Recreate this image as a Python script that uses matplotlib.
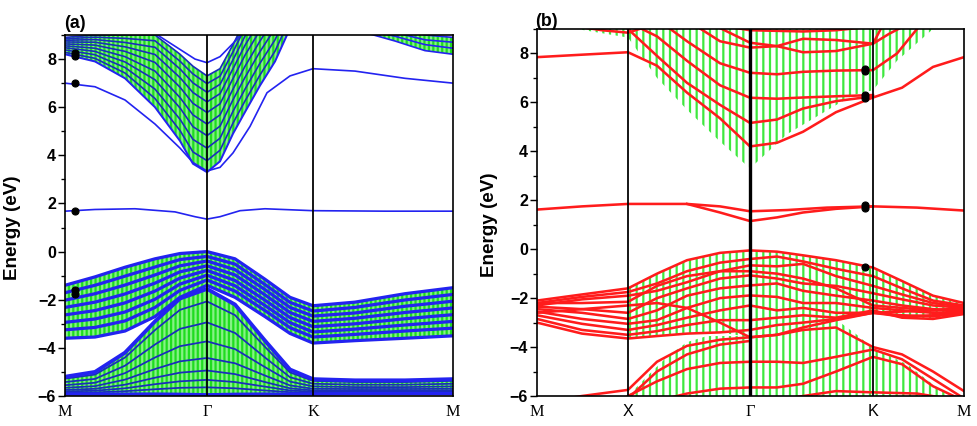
import matplotlib
matplotlib.use('Agg')
import matplotlib.pyplot as plt
from matplotlib.ticker import MultipleLocator

plt.rcParams['hatch.linewidth'] = 2.0

# ---------------- panel (a) data ----------------
ka_ticks = [0, 142, 248, 388]
ka_labels = ['M', 'Γ', 'K', 'M']

# conduction bundle
ka_c = [0, 30, 60, 90, 115, 128, 142, 155, 168, 180, 195, 210, 222]
ca_lo = [8.2, 7.9, 7.2, 6.0, 4.6, 3.65, 3.3, 3.75, 4.9, 5.8, 6.9, 7.9, 9.0]
ca_hi = [8.9, 9.0, 9.0, 9.0, 8.2, 7.7, 7.3, 7.6, 8.6, 9.6, 10.6, 11.5, 12.3]
ca1 = [8.28, 8.03, 7.42, 6.36, 5.03, 4.14, 3.78, 4.21, 5.34, 6.26, 7.34, 8.33, 9.40]
ca2 = [8.38, 8.18, 7.65, 6.75, 5.50, 4.66, 4.30, 4.71, 5.83, 6.75, 7.83, 8.80, 9.83]
ca3 = [8.47, 8.32, 7.88, 7.14, 5.97, 5.19, 4.82, 5.21, 6.31, 7.24, 8.31, 9.27, 10.25]
ca4 = [8.55, 8.45, 8.10, 7.50, 6.40, 5.68, 5.30, 5.68, 6.75, 7.70, 8.75, 9.70, 10.65]
ca5 = [8.63, 8.58, 8.32, 7.86, 6.83, 6.16, 5.78, 6.14, 7.19, 8.16, 9.19, 10.13, 11.05]
ca6 = [8.71, 8.70, 8.51, 8.19, 7.23, 6.61, 6.22, 6.56, 7.60, 8.57, 9.60, 10.53, 11.41]
ca7 = [8.78, 8.81, 8.69, 8.49, 7.59, 7.01, 6.62, 6.95, 7.97, 8.95, 9.97, 10.89, 11.74]
ca8 = [8.84, 8.91, 8.86, 8.76, 7.91, 7.38, 6.98, 7.29, 8.30, 9.30, 10.30, 11.21, 12.04]

# lowest conduction band (7.0 eV at M)
ka_c0 = [0, 30, 60, 90, 115, 128, 142, 155, 168, 185, 202, 225, 248, 290, 340, 388]
ca_c0 = [7.0, 6.85, 6.3, 5.3, 4.3, 3.7, 3.35, 3.5, 4.1, 5.2, 6.6, 7.3, 7.6, 7.5, 7.2, 7.0]

# band above the bundle at Gamma
ka_t = [85, 100, 115, 130, 142, 155, 168, 178]
ca_t = [9.2, 8.8, 8.4, 8.0, 7.85, 8.1, 8.65, 9.1]

# small bundle at top right
ka_tr = [300, 330, 360, 388]
tr1 = [9.1, 8.75, 8.35, 8.2]
tr2 = [9.2, 8.95, 8.6, 8.45]
tr3 = [9.3, 9.1, 8.8, 8.7]
tr4 = [9.4, 9.25, 9.0, 8.9]

# flat gap band
ka_f = [0, 30, 70, 110, 130, 142, 155, 175, 200, 248, 320, 388]
fa = [1.68, 1.75, 1.78, 1.65, 1.45, 1.35, 1.45, 1.7, 1.78, 1.7, 1.68, 1.68]

# valence bundles
ka_v = [0, 30, 60, 90, 115, 142, 170, 200, 225, 248, 290, 340, 388]
va_top = [-1.4, -1.05, -0.65, -0.3, -0.08, 0.0, -0.3, -1.15, -1.9, -2.25, -2.1, -1.75, -1.5]
va1 = [-1.71, -1.40, -1.02, -0.64, -0.33, -0.20, -0.52, -1.37, -2.11, -2.47, -2.32, -2.01, -1.78]
va2 = [-2.02, -1.75, -1.39, -0.97, -0.59, -0.39, -0.75, -1.58, -2.32, -2.68, -2.55, -2.27, -2.06]
va3 = [-2.32, -2.10, -1.76, -1.31, -0.84, -0.59, -0.97, -1.80, -2.53, -2.90, -2.77, -2.53, -2.34]
va4 = [-2.63, -2.45, -2.13, -1.64, -1.10, -0.78, -1.20, -2.02, -2.74, -3.12, -3.00, -2.79, -2.62]
va5 = [-2.94, -2.80, -2.51, -1.98, -1.35, -0.98, -1.42, -2.24, -2.95, -3.34, -3.22, -3.05, -2.90]
va6 = [-3.25, -3.15, -2.88, -2.32, -1.61, -1.18, -1.64, -2.45, -3.16, -3.55, -3.44, -3.30, -3.18]
va_bot = [-3.6, -3.55, -3.3, -2.7, -1.9, -1.4, -1.9, -2.7, -3.4, -3.8, -3.7, -3.6, -3.5]

la_top = [-5.2, -5.0, -4.2, -2.9, -1.95, -1.55, -2.2, -3.7, -4.9, -5.3, -5.35, -5.35, -5.3]
la1 = [-5.28, -5.11, -4.40, -3.26, -2.42, -2.07, -2.64, -3.96, -5.02, -5.37, -5.42, -5.42, -5.37]
la2 = [-5.42, -5.29, -4.74, -3.86, -3.21, -2.94, -3.38, -4.40, -5.22, -5.49, -5.53, -5.53, -5.49]
la3 = [-5.55, -5.45, -5.05, -4.40, -3.93, -3.73, -4.05, -4.80, -5.40, -5.60, -5.63, -5.63, -5.60]
la4 = [-5.66, -5.59, -5.32, -4.88, -4.56, -4.42, -4.64, -5.15, -5.56, -5.70, -5.71, -5.71, -5.70]
la5 = [-5.75, -5.70, -5.53, -5.24, -5.03, -4.94, -5.09, -5.42, -5.68, -5.77, -5.78, -5.78, -5.77]
la6 = [-5.81, -5.78, -5.68, -5.51, -5.39, -5.33, -5.42, -5.61, -5.77, -5.82, -5.83, -5.83, -5.82]
la7 = [-5.86, -5.85, -5.80, -5.72, -5.66, -5.64, -5.68, -5.77, -5.84, -5.86, -5.87, -5.87, -5.86]
la_bot = [-5.92, -5.92, -5.92, -5.92, -5.93, -5.95, -5.93, -5.92, -5.92, -5.92, -5.9, -5.9, -5.9]

dots_a_k = [10, 10, 10, 10, 10, 10]
dots_a_e = [8.25, 8.12, 7.0, 1.7, -1.6, -1.75]

# ---------------- panel (b) data ----------------
kb_ticks = [0, 91, 213, 336, 427]
kb_labels = ['M', 'X', 'Γ', 'K', 'M']
kb = [0, 45, 91, 120, 150, 183, 213, 240, 266, 299, 336, 365, 396, 427]

kb_c = [40, 91, 120, 150, 183, 213, 250, 283, 316, 336, 360, 396]
cb_lo = [9.0, 8.65, 7.0, 5.7, 4.4, 3.3, 4.7, 5.5, 6.3, 6.5, 7.7, 9.0]

cb_t8 = [7.85, 7.95, 8.05, 7.5, 6.4, 5.35, 4.2, 4.35, 4.8, 5.6, 6.2, 6.6, 7.45, 7.85]
kb_c2 = [91, 120, 150, 183, 213, 240, 266, 299, 336]
cb_c2 = [9.0, 7.9, 6.8, 5.9, 5.16, 5.3, 5.75, 6.05, 6.25]
kb_c3 = [100, 120, 150, 183, 213, 240, 266, 299, 336]
cb_c3 = [9.1, 8.7, 7.7, 6.7, 6.19, 6.15, 6.2, 6.25, 6.3]
kb_c4 = [130, 150, 183, 213, 240, 266, 299, 336, 360, 382]
cb_c4 = [9.1, 8.5, 7.6, 7.21, 7.15, 7.25, 7.3, 7.32, 8.0, 9.1]
kb_c5 = [160, 183, 213, 240, 266, 299, 336, 352, 366]
cb_c5 = [9.1, 8.5, 8.24, 8.3, 8.05, 8.1, 8.4, 8.8, 9.1]
kb_c6 = [180, 213, 240, 266, 299, 336, 345]
cb_c6 = [9.1, 8.44, 8.3, 8.6, 8.55, 8.4, 9.1]
kb_c7 = [190, 213, 266, 299, 336]
cb_c7 = [9.1, 8.95, 8.9, 8.95, 9.1]
kb_mx = [40, 65, 91, 110]
cb_mx = [9.1, 8.95, 8.85, 9.1]

kb_f1 = [0, 45, 91, 150, 183, 213, 250, 290, 336, 380, 427]
fb1 = [1.62, 1.75, 1.85, 1.85, 1.75, 1.55, 1.6, 1.7, 1.75, 1.7, 1.58]
kb_f2 = [150, 183, 213, 240, 266, 299, 336]
fb2 = [1.85, 1.5, 1.15, 1.3, 1.5, 1.65, 1.75]

vb1 = [-2.1, -1.85, -1.6, -1.0, -0.45, -0.15, -0.05, -0.1, -0.25, -0.45, -0.75, -1.3, -1.9, -2.2]
vb2 = [-2.2, -1.95, -1.75, -1.4, -0.9, -0.55, -0.4, -0.3, -0.5, -0.8, -1.1, -1.6, -2.1, -2.3]
vb3 = [-2.3, -2.05, -1.9, -1.7, -1.35, -0.9, -0.66, -0.7, -0.6, -1.1, -1.5, -1.85, -2.2, -2.35]
vb4 = [-2.35, -2.45, -2.6, -2.0, -1.6, -1.2, -1.07, -1.2, -1.4, -1.5, -1.8, -2.05, -2.3, -2.4]
vb5 = [-2.45, -2.6, -2.85, -2.5, -1.9, -1.6, -1.48, -1.4, -1.7, -1.9, -2.1, -2.3, -2.45, -2.5]
vb6 = [-2.55, -2.85, -3.05, -2.9, -2.4, -2.0, -1.89, -1.95, -2.2, -2.2, -2.4, -2.5, -2.6, -2.55]
vb7 = [-2.7, -3.05, -3.3, -3.1, -2.8, -2.5, -2.3, -2.5, -2.4, -2.6, -2.6, -2.7, -2.75, -2.6]
vb8 = [-2.85, -3.3, -3.5, -3.35, -3.1, -2.9, -2.9, -2.8, -2.7, -2.8, -2.5, -2.8, -2.85, -2.65]
vb9 = [-3.0, -3.45, -3.65, -3.55, -3.45, -3.4, -3.3, -3.1, -3.0, -2.85, -2.6, -2.75, -2.7, -2.5]
vb10 = [-2.2, -2.2, -2.15, -1.5, -1.1, -0.9, -0.9, -1.0, -1.2, -1.6, -2.3, -2.4, -2.5, -2.45]
vb11 = [-2.6, -2.45, -2.3, -2.2, -2.4, -3.0, -3.6, -3.5, -3.2, -2.9, -2.6, -2.55, -2.5, -2.4]

kb_vg = [91, 120, 150, 183, 213, 240, 266, 299, 336, 365, 396, 427]
vg_top = [-1.6, -1.0, -0.45, -0.15, -0.05, -0.1, -0.25, -0.45, -0.75, -1.3, -1.9, -2.2]
vg_bot = [-3.65, -3.55, -3.45, -3.4, -3.6, -3.5, -3.2, -2.9, -2.6, -2.8, -2.85, -2.65]

kb_lg = [91, 110, 130, 150, 170, 213, 260, 300, 320, 336, 370, 395, 412]
lg_top = [-6.0, -5.2, -4.4, -3.8, -3.55, -3.55, -3.3, -2.9, -3.5, -4.05, -4.7, -5.5, -6.0]

kb_l1 = [0, 45, 91, 120, 150, 183, 213]
lb1 = [-6.3, -6.0, -5.75, -4.6, -3.95, -3.7, -3.6]
kb_l2 = [91, 120, 150, 183, 213, 240, 266, 299, 336, 365, 396, 427]
lb2 = [-6.0, -5.4, -4.9, -4.65, -4.6, -4.6, -4.65, -4.4, -4.1, -4.5, -5.3, -6.1]
kb_l3 = [120, 150, 183, 213, 240, 266, 299, 336, 365, 396, 427]
lb3 = [-6.2, -5.9, -5.7, -5.65, -5.65, -5.5, -5.0, -4.4, -4.7, -5.6, -6.2]
kb_l4 = [213, 240, 266, 299, 336, 365, 396, 427]
lb4 = [-3.6, -3.5, -3.3, -3.2, -4.0, -4.3, -5.0, -5.8]
kb_l5 = [250, 299, 336, 380, 410]
lb5 = [-6.1, -5.8, -5.85, -5.9, -6.1]
kb_l6 = [91, 120, 150, 183, 213]
lb6 = [-6.1, -5.0, -4.3, -3.9, -3.75]

dots_b_k = [328, 328, 328, 328, 328, 328, 328]
dots_b_e = [7.38, 7.28, 6.32, 6.18, 1.82, 1.68, -0.72]

# ---------------- drawing ----------------
W, H, DPI = 977, 426, 80
fig = plt.figure(figsize=(W / DPI, H / DPI), dpi=DPI)
ax_a = fig.add_axes([65 / W, 1 - 396 / H, 388 / W, 361 / H])
ax_b = fig.add_axes([537 / W, 1 - 396 / H, 427 / W, 367 / H])

blue = '#2323f0'
navy = '#1a2dbb'
red = '#ff1c1c'

# panel a green
ga = dict(facecolor='#86f286', edgecolor='#1fdc1f', hatch='|||', lw=0, zorder=1)
ax_a.fill_between(ka_c, ca_lo, ca_hi, **ga)
ax_a.fill_between(ka_tr, tr1, tr4, **ga)
ax_a.fill_between(ka_v, va_top, va_bot, **ga)
ax_a.fill_between(ka_v, la_top, la_bot, **ga)

for y in [ca1, ca2, ca3, ca4, ca5, ca6, ca7, ca8]:
    ax_a.plot(ka_c, y, color=navy, lw=1.5, zorder=2)
ax_a.plot(ka_c, ca_lo, color=blue, lw=1.8, zorder=2)
ax_a.plot(ka_c, ca_hi, color=navy, lw=1.5, zorder=2)
ax_a.plot(ka_c0, ca_c0, color=blue, lw=1.5, zorder=2)
ax_a.plot(ka_t, ca_t, color=blue, lw=1.5, zorder=2)
for y in [tr1, tr2, tr3, tr4]:
    ax_a.plot(ka_tr, y, color=blue, lw=1.5, zorder=2)
ax_a.plot(ka_f, fa, color=blue, lw=1.5, zorder=2)
for y in [va_top, va1, va2, va3, va4, va5, va6, va_bot]:
    ax_a.plot(ka_v, y, color=blue, lw=2.9, zorder=2)
for y in [la1, la2, la3, la4, la5, la6, la7]:
    ax_a.plot(ka_v, y, color=navy, lw=1.6, zorder=2)
ax_a.plot(ka_v, la_top, color=blue, lw=3.5, zorder=2)
ax_a.plot(ka_v, la_bot, color=blue, lw=3.0, zorder=2)
ax_a.scatter(dots_a_k, dots_a_e, s=40, color='black', zorder=5)
for k in ka_ticks[1:-1]:
    ax_a.axvline(k, color='black', lw=1.6, zorder=4)

# panel b green
gb = dict(facecolor='none', edgecolor='#3ee83e', hatch='||', lw=0, zorder=1)
ax_b.fill_between(kb_c, cb_lo, 9.5, **gb)
ax_b.fill_between(kb_vg, vg_top, vg_bot, **gb)
ax_b.fill_between(kb_lg, lg_top, -6.5, **gb)

lw_r = 2.3
ax_b.plot(kb, cb_t8, color=red, lw=lw_r, zorder=2)
for x, y in [(kb_c2, cb_c2), (kb_c3, cb_c3), (kb_c4, cb_c4), (kb_c5, cb_c5),
             (kb_c6, cb_c6), (kb_c7, cb_c7), (kb_mx, cb_mx),
             (kb_f1, fb1), (kb_f2, fb2),
             (kb_l1, lb1), (kb_l2, lb2), (kb_l3, lb3), (kb_l4, lb4),
             (kb_l5, lb5), (kb_l6, lb6)]:
    ax_b.plot(x, y, color=red, lw=lw_r, zorder=2)
for y in [vb1, vb2, vb3, vb4, vb5, vb6, vb7, vb8, vb9, vb10, vb11]:
    ax_b.plot(kb, y, color=red, lw=lw_r, zorder=2)
ax_b.scatter(dots_b_k, dots_b_e, s=40, color='black', zorder=5)
for k, w in zip(kb_ticks[1:-1], [1.6, 3.0, 1.6]):
    ax_b.axvline(k, color='black', lw=w, zorder=4)

# axes styling
for ax, xt, xl, xmax in [(ax_a, ka_ticks, ka_labels, 388), (ax_b, kb_ticks, kb_labels, 427)]:
    ax.set_xlim(0, xmax)
    ax.set_ylim(-6, 9)
    ax.yaxis.set_major_locator(MultipleLocator(2))
    ax.yaxis.set_minor_locator(MultipleLocator(1))
    ax.tick_params(axis='y', which='major', direction='out', length=6, width=1.3,
                   pad=2, labelsize=14.5, right=False)
    ax.tick_params(axis='y', which='minor', direction='out', length=3.5, width=1.2, right=False)
    ax.set_xticks(xt)
    ax.set_xticklabels(xl)
    ax.tick_params(axis='x', length=0, pad=7, labelsize=14.5)
    for lab in ax.get_yticklabels():
        lab.set_fontfamily('Liberation Sans')
        lab.set_fontweight('bold')
    for lab in ax.get_xticklabels():
        lab.set_fontfamily('Liberation Serif')
    for s in ax.spines.values():
        s.set_linewidth(1.5)

xl_b = ax_b.get_xticklabels()
for i in (1, 3):
    xl_b[i].set_fontfamily('Liberation Sans')

fig.text(13 / W, 1 - 228 / H, 'Energy (eV)', rotation=90, ha='center', va='center',
         fontsize=17, fontweight='bold', family='Liberation Sans')
fig.text(490 / W, 1 - 225 / H, 'Energy (eV)', rotation=90, ha='center', va='center',
         fontsize=17, fontweight='bold', family='Liberation Sans')
fig.text(64 / W, 1 - 24 / H, '(a)', ha='left', va='center',
         fontsize=16, fontweight='bold', family='Liberation Sans')
fig.text(535 / W, 1 - 21 / H, '(b)', ha='left', va='center',
         fontsize=16, fontweight='bold', family='Liberation Sans')

fig.savefig('out.png', dpi=DPI)
